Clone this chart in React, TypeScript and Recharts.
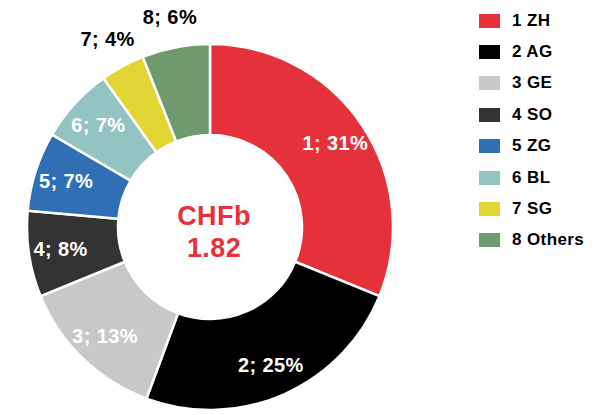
import { PieChart, Pie, Cell, Legend } from 'recharts'

const regions = ['ZH', 'AG', 'GE', 'SO', 'ZG', 'BL', 'SG', 'Others']
// share of total volume
const shares = [31.2, 24.5, 13.2, 7.6, 7.0, 6.7, 3.9, 6.0]
// percentages printed on the slices
const shareLabels = [31, 25, 13, 8, 7, 7, 4, 6]
const colors = ['#e5323a', '#000000', '#c8c8c8', '#333333', '#306fb4', '#93c4c2', '#e0d532', '#6f9a70']
const labelColors = ['#fff', '#fff', '#fff', '#fff', '#fff', '#fff', '#000', '#000']
const totalLabel = ['CHFb', '1.82']

const data = regions.map((r, i) => ({ name: `${i + 1} ${r}`, value: shares[i] }))

const FONT = '"Liberation Sans", Arial, Helvetica, sans-serif'
const RADIAN = Math.PI / 180

const CX = 210
const CY = 227

function renderLabel(props: any) {
  const { cx, cy, midAngle, index } = props
  const r = index >= 6 ? 214 : 151
  const x = cx + r * Math.cos(-midAngle * RADIAN)
  const y = cy + r * Math.sin(-midAngle * RADIAN)
  return (
    <text
      x={x}
      y={y}
      fill={labelColors[index]}
      textAnchor="middle"
      dominantBaseline="central"
      fontSize={20}
      fontWeight={700}
      letterSpacing={0.4}
      fontFamily={FONT}
    >
      {`${index + 1}; ${shareLabels[index]}%`}
    </text>
  )
}

function LegendList() {
  return (
    <div style={{ fontFamily: FONT }}>
      {data.map((d, i) => (
        <div key={d.name} style={{ display: 'flex', alignItems: 'center', height: 31.4 }}>
          <span style={{ width: 21, height: 14, background: colors[i], display: 'inline-block', marginRight: 12 }} />
          <span style={{ fontSize: 17, fontWeight: 700, letterSpacing: 0.4, color: '#000' }}>{d.name}</span>
        </div>
      ))}
    </div>
  )
}

export default function App() {
  return (
    <div style={{ position: 'absolute', left: 0, top: 0, width: 601, height: 415, background: '#fff' }}>
      <PieChart width={601} height={415} margin={{ top: 0, right: 0, bottom: 0, left: 0 }}>
        <Pie
          data={data}
          dataKey="value"
          cx={CX}
          cy={CY}
          innerRadius={92}
          outerRadius={183}
          startAngle={90}
          endAngle={-270}
          stroke="#fff"
          strokeWidth={2.5}
          label={renderLabel}
          labelLine={false}
          isAnimationActive={false}
        >
          {data.map((d, i) => (
            <Cell key={d.name} fill={colors[i]} />
          ))}
        </Pie>
        <Legend
          content={() => <LegendList />}
          wrapperStyle={{ position: 'absolute', left: 479, top: 5, width: 120 }}
        />
        <text x={CX + 4} y={CY - 2} textAnchor="middle" fill="#e5323a" fontSize={27} fontWeight={700} letterSpacing={0.4} fontFamily={FONT}>
          {totalLabel[0]}
        </text>
        <text x={CX + 4} y={CY + 30} textAnchor="middle" fill="#e5323a" fontSize={27} fontWeight={700} letterSpacing={0.4} fontFamily={FONT}>
          {totalLabel[1]}
        </text>
      </PieChart>
    </div>
  )
}
